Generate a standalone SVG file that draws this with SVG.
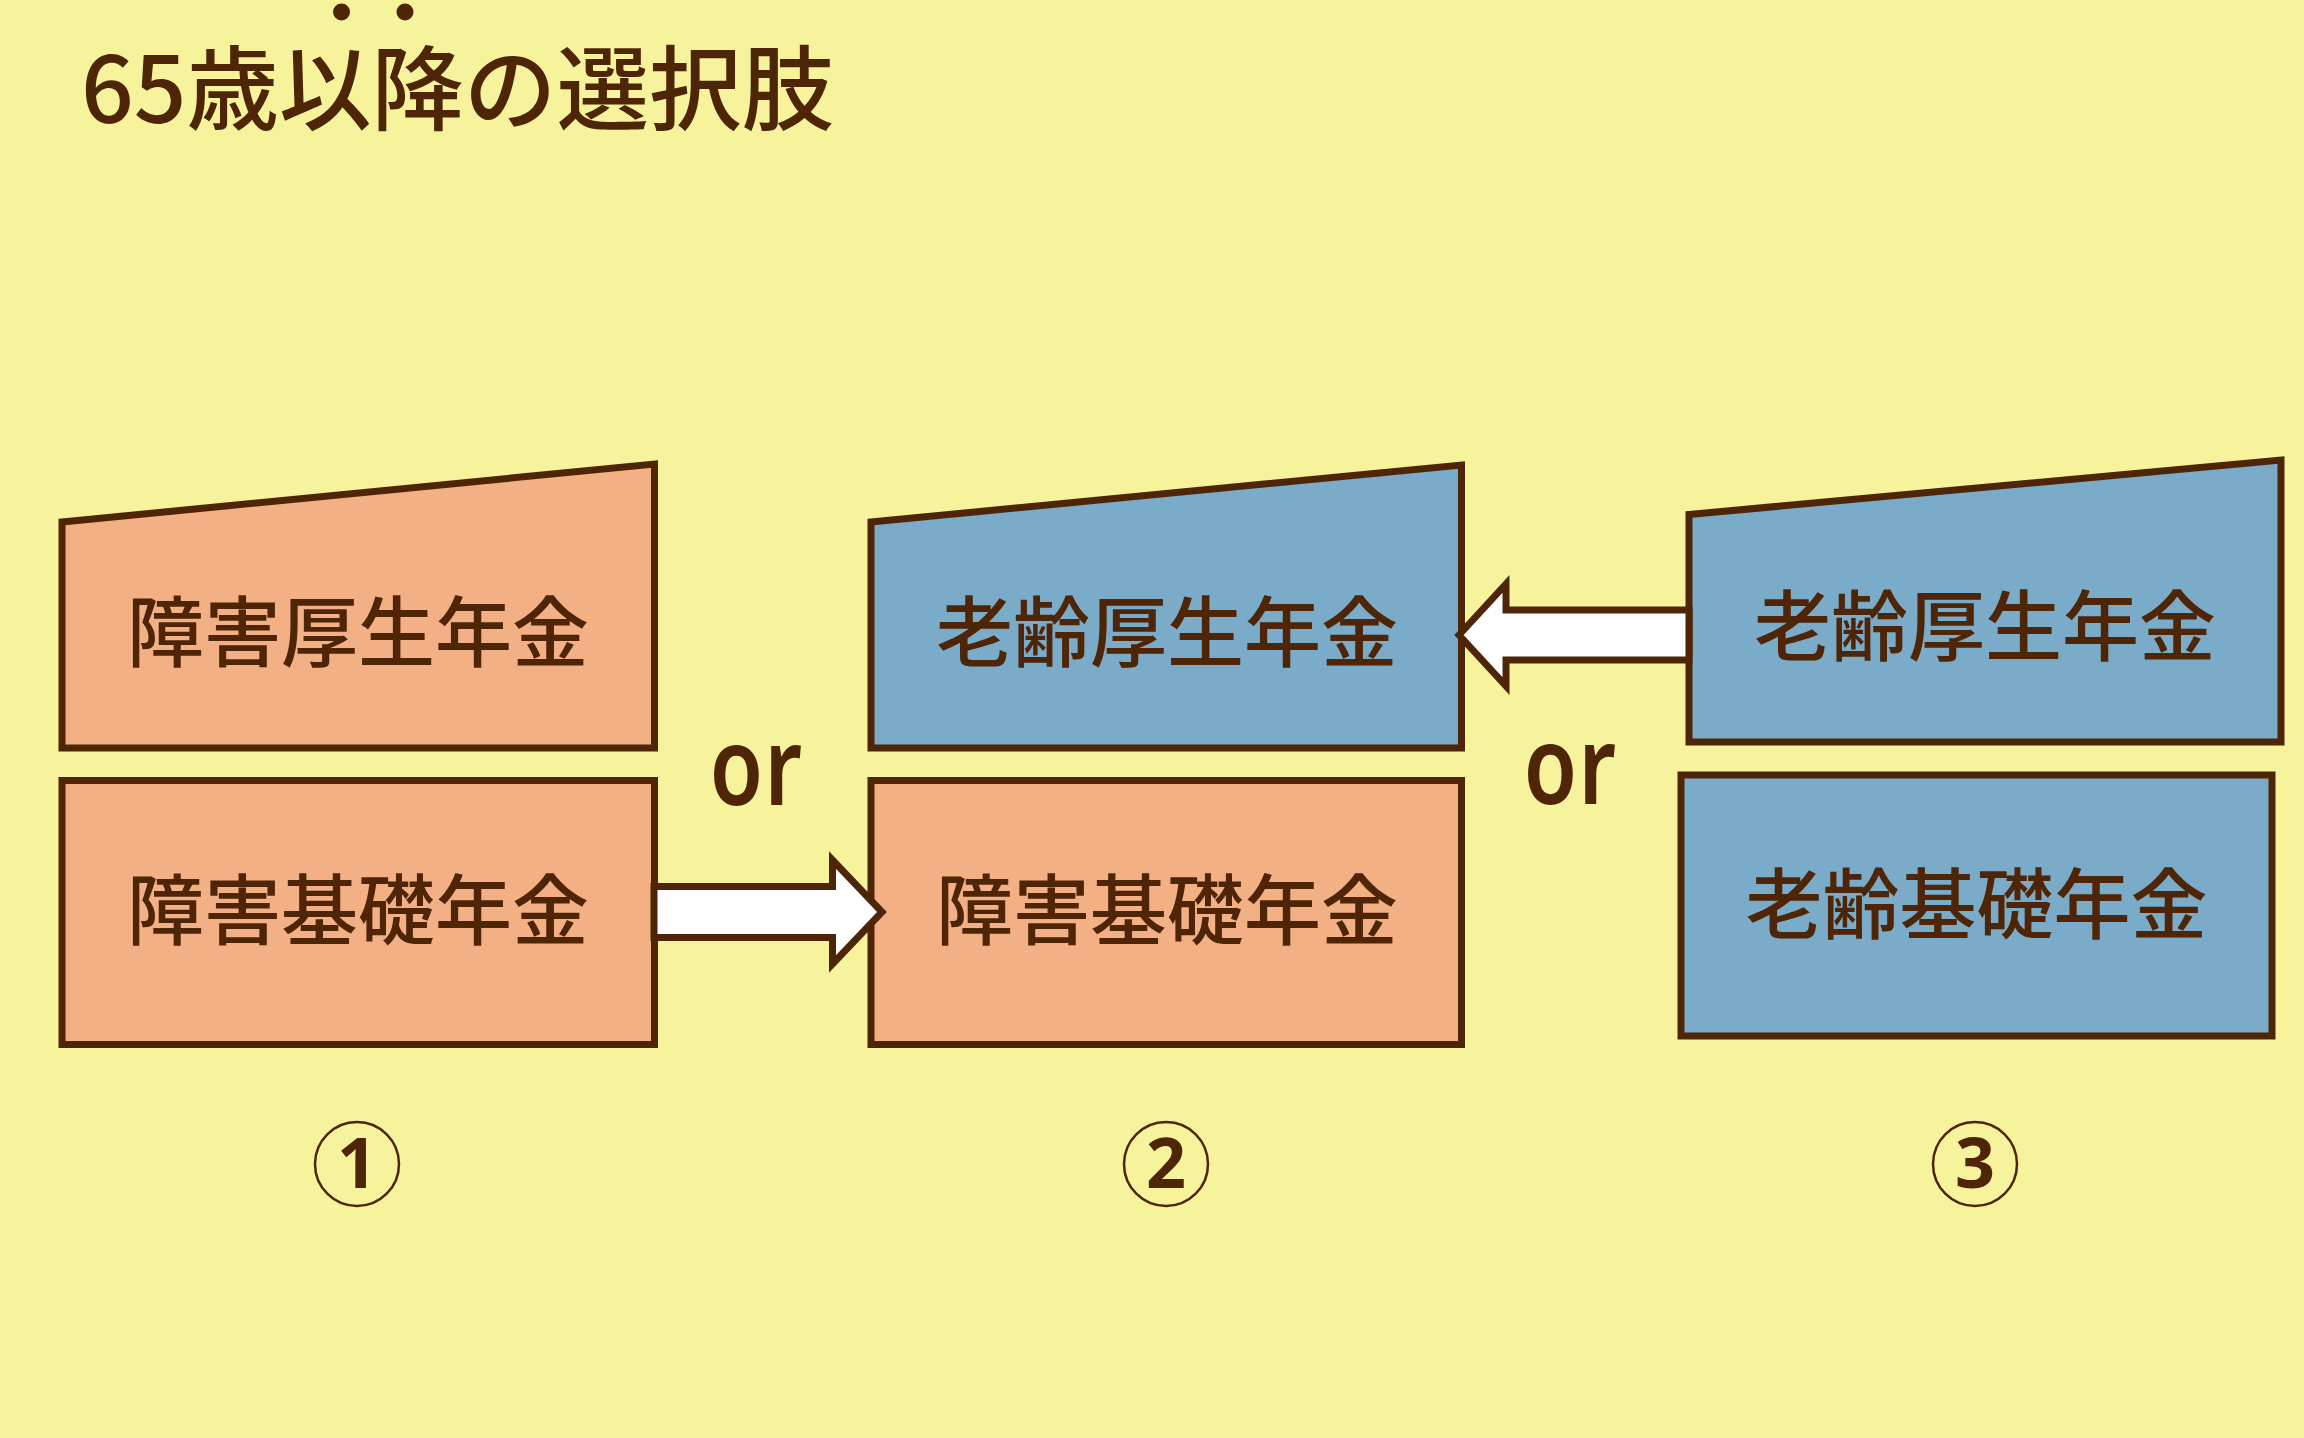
<svg xmlns="http://www.w3.org/2000/svg" width="2304" height="1438" viewBox="0 0 2304 1438">
  <style>
    .bg { fill: #F7F29C; }
    .box { stroke: #4E2507; stroke-width: 7; stroke-linejoin: miter; }
    .orange { fill: #F3B084; }
    .blue { fill: #7AABC9; }
    .lbl { font-family: "Noto Sans CJK JP", "Noto Sans", sans-serif; font-weight: 500; font-size: 77px; fill: #4E2507; text-anchor: middle; }
    .title { font-family: "Noto Sans CJK JP", "Noto Sans", sans-serif; font-weight: 500; font-size: 92.5px; fill: #4E2507; }
    .or { font-family: "Noto Sans", sans-serif; font-weight: 600; font-size: 108px; fill: #4E2507; }
    .num { font-family: "Noto Sans", sans-serif; font-weight: 700; font-size: 70px; fill: #4E2507; text-anchor: middle; }
    .ring { fill: none; stroke: #4E2507; stroke-width: 2.5; }
    .arrow { fill: #FFFFFF; stroke: #4E2507; stroke-width: 7; stroke-linejoin: miter; }
  </style>
  <rect class="bg" x="0" y="0" width="2304" height="1438"/>

  <g id="title">
    <text class="title" x="81" y="123">65歳以降の選択肢</text>
    <circle cx="341.5" cy="12" r="8.5" fill="#4E2507"/>
    <circle cx="405" cy="12" r="8.5" fill="#4E2507"/>
  </g>

  <g id="node-shougai-kousei">
    <polygon class="box orange" points="62,522 654.5,464 654.5,748 62,748"/>
    <text class="lbl" x="358" y="661">障害厚生年金</text>
  </g>
  <g id="node-shougai-kiso-1">
    <rect class="box orange" x="62" y="780.5" width="592.5" height="264"/>
    <text class="lbl" x="358" y="939">障害基礎年金</text>
  </g>
  <g id="node-rourei-kousei-2">
    <polygon class="box blue" points="871,522 1461.5,465 1461.5,748 871,748"/>
    <text class="lbl" x="1167" y="661">老齢厚生年金</text>
  </g>
  <g id="node-shougai-kiso-2">
    <rect class="box orange" x="871" y="780.5" width="590.5" height="264"/>
    <text class="lbl" x="1167" y="939">障害基礎年金</text>
  </g>
  <g id="node-rourei-kousei-3">
    <polygon class="box blue" points="1689,514.5 2281,460 2281,742 1689,742"/>
    <text class="lbl" x="1985" y="655">老齢厚生年金</text>
  </g>
  <g id="node-rourei-kiso-3">
    <rect class="box blue" x="1681" y="775" width="591" height="261"/>
    <text class="lbl" x="1976.5" y="933">老齢基礎年金</text>
  </g>

  <g id="connectors">
    <polygon class="arrow" points="654,886.5 832.5,886.5 832.5,860 882,912 832.5,964 832.5,937.5 654,937.5"/>
    <polygon class="arrow" points="1459,635 1506,584 1506,610 1689,610 1689,660 1506,660 1506,686"/>
  </g>

  <g id="or-1">
    <text class="or" transform="translate(709.7,805) scale(0.8,1)" letter-spacing="2">or</text>
  </g>
  <g id="or-2">
    <text class="or" transform="translate(1523.7,804) scale(0.8,1)" letter-spacing="2">or</text>
  </g>

  <g id="label-1">
    <circle class="ring" cx="357" cy="1164" r="42"/>
    <text class="num" x="357" y="1188">1</text>
  </g>
  <g id="label-2">
    <circle class="ring" cx="1166" cy="1164" r="42"/>
    <text class="num" x="1166" y="1188">2</text>
  </g>
  <g id="label-3">
    <circle class="ring" cx="1975" cy="1164" r="42"/>
    <text class="num" x="1975" y="1188">3</text>
  </g>
</svg>
